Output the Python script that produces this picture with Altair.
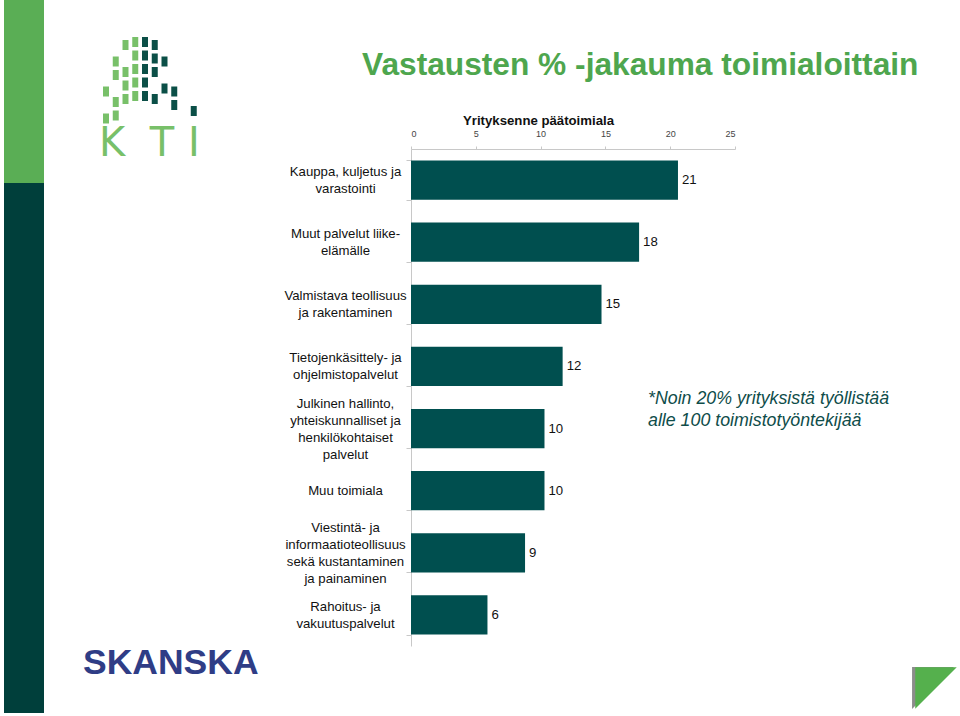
import altair as alt
import pandas as pd

# ---------------- data ----------------
categories = [
    "Kauppa, kuljetus ja\nvarastointi",
    "Muut palvelut liike-\nelämälle",
    "Valmistava teollisuus\nja rakentaminen",
    "Tietojenkäsittely- ja\nohjelmistopalvelut",
    "Julkinen hallinto,\nyhteiskunnalliset ja\nhenkilökohtaiset\npalvelut",
    "Muu toimiala",
    "Viestintä- ja\ninformaatioteollisuus\nsekä kustantaminen\nja painaminen",
    "Rahoitus- ja\nvakuutuspalvelut",
]
shares = [20.6, 17.6, 14.7, 11.7, 10.3, 10.3, 8.8, 5.9]
x_ticks = [0, 5, 10, 15, 20, 25]

title_text = "Vastausten % -jakauma toimialoittain"
axis_title = "Yrityksenne päätoimiala"
note_lines = ["*Noin 20% yrityksistä työllistää", "alle 100 toimistotyöntekijää"]

# KTI logo grid (column, row, tone)
logo_col = [0, 0, 1, 1, 1, 1, 2, 2, 2, 2, 3, 3, 3, 3, 3,
            4, 4, 4, 4, 4, 5, 5, 5, 5, 6, 6, 7, 7, 9]
logo_row = [3, 5, 1, 2, 4, 5, 0, 2, 3, 4, 0, 1, 2, 3, 4,
            0, 1, 2, 3, 4, 0, 1, 2, 4, 1, 3, 3, 4, 4]
logo_tone = ["l"] * 15 + ["d"] * 14

FONT = "Liberation Sans"
BAR = "#004f4f"
LH = 17

df = pd.DataFrame({"toimiala": categories, "osuus": shares})

n_lines = "length(split(datum.value, '\\n'))"
label_offset = {
    "condition": [
        {"test": n_lines + " == 4", "value": -1.5 * LH},
        {"test": n_lines + " == 3", "value": -1.0 * LH},
        {"test": n_lines + " == 2", "value": -0.5 * LH},
    ],
    "value": 0,
}

y_enc = alt.Y(
    "toimiala:N",
    sort=categories,
    scale=alt.Scale(paddingInner=0.37, paddingOuter=0.185),
    axis=alt.Axis(
        title=None,
        labelExpr="split(datum.label, '\\n')",
        labelAlign="center",
        labelBaseline="middle",
        labelPadding=61,
        labelOffset=label_offset,
        labelFont=FONT,
        labelFontSize=13.2,
        labelLineHeight=LH,
        labelColor="#111111",
        labelLimit=400,
        tickSize=5,
        tickBand="extent",
        tickColor="#c8c8c8",
        domainColor="#c8c8c8",
    ),
)

x_scale = alt.Scale(domain=[0, 25], nice=False)

bars = alt.Chart(df).mark_bar(color=BAR).encode(
    y=y_enc,
    x=alt.X(
        "osuus:Q",
        scale=x_scale,
        axis=alt.Axis(
            orient="top",
            values=x_ticks,
            title=axis_title,
            titleFont=FONT,
            titleFontSize=13.2,
            titleFontWeight="bold",
            titleColor="#111111",
            titleX=127,
            titleY=-25,
            titleAlign="center",
            titleBaseline="alphabetic",
            labelFont=FONT,
            labelFontSize=9,
            labelColor="#444444",
            labelPadding=8,
            tickSize=3,
            tickColor="#c8c8c8",
            domainColor="#c8c8c8",
            grid=False,
        ),
    ),
)

value_labels = alt.Chart(df).mark_text(
    align="left", baseline="middle", dx=4, font=FONT, fontSize=13.2, color="#111111"
).encode(
    y=alt.Y("toimiala:N", sort=categories),
    x=alt.X("osuus:Q", scale=x_scale),
    text=alt.Text("osuus:Q", format=".0f"),
)

one = pd.DataFrame({"a": [0]})

# left decorative strips
green_strip = alt.Chart(one).mark_rect(color="#5aae55").encode(
    x=alt.value(-407), x2=alt.value(-367), y=alt.value(-149), y2=alt.value(34)
)
dark_strip = alt.Chart(one).mark_rect(color="#003f3b").encode(
    x=alt.value(-407), x2=alt.value(-367), y=alt.value(34), y2=alt.value(564)
)

# KTI logo
logo_df = pd.DataFrame({"col": logo_col, "row": logo_row, "tone": logo_tone})
logo = alt.Chart(logo_df).transform_calculate(
    shift="datum.col <= 3 ? (3 - datum.col) * 3 : (datum.col - 4) * 3",
    px="datum.col * 9.75 - 308",
    px2="datum.col * 9.75 - 302",
    py="datum.row * 13.5 - 112 + datum.shift",
    py2="datum.row * 13.5 - 102 + datum.shift",
).mark_rect().encode(
    x=alt.X("px:Q", scale=None, axis=None),
    x2="px2:Q",
    y=alt.Y("py:Q", scale=None, axis=None),
    y2="py2:Q",
    color=alt.Color(
        "tone:N",
        scale=alt.Scale(domain=["l", "d"], range=["#78c069", "#0b4f47"]),
        legend=None,
    ),
)

kti_style = dict(font="DejaVu Sans", fontWeight="normal", fontSize=40, color="#78c069",
                 baseline="alphabetic")
kti_k = alt.Chart(one).mark_text(text="K", align="left", **kti_style).encode(
    x=alt.value(-312), y=alt.value(7))
kti_t = alt.Chart(one).mark_text(text="T", align="center", **kti_style).encode(
    x=alt.value(-249), y=alt.value(7))
kti_i = alt.Chart(one).mark_text(text="I", align="center", **kti_style).encode(
    x=alt.value(-217), y=alt.value(7))

skanska = alt.Chart(one).mark_text(
    text="SKANSKA", align="left", baseline="middle", font=FONT, fontWeight="bold",
    fontSize=35.5, color="#2f3d86"
).encode(x=alt.value(-328), y=alt.value(514))

title = alt.Chart(one).mark_text(
    text=title_text, align="left", baseline="middle", font=FONT, fontWeight="bold",
    fontSize=31.7, color="#4ea64e"
).encode(x=alt.value(-49), y=alt.value(-84))

note = alt.Chart(one).mark_text(
    text=note_lines, align="left", baseline="middle", font=FONT, fontStyle="italic",
    fontSize=17.8, lineHeight=22, color="#0f4d4a"
).encode(x=alt.value(237), y=alt.value(250))

tri_path = "M -1 -1 L 1 -1 L -1 1 Z"
tri_shadow = alt.Chart(one).mark_point(
    shape=tri_path, filled=True, size=1750, color="#8c8c8c", opacity=1
).encode(x=alt.value(522), y=alt.value(539))
tri = alt.Chart(one).mark_point(
    shape=tri_path, filled=True, size=1720, color="#55b04d", opacity=1
).encode(x=alt.value(525), y=alt.value(539))

chart = alt.layer(
    green_strip, dark_strip, logo, kti_k, kti_t, kti_i, skanska, title, note,
    tri_shadow, tri, bars, value_labels
).properties(
    width=324,
    height=497,
    padding={"left": 411, "top": 149, "right": 225, "bottom": 70},
    autosize=alt.AutoSizeParams(type="none"),
    background="white",
).configure_view(stroke="transparent")

chart.save("out.html", embed_options={"renderer": "svg", "actions": False})
